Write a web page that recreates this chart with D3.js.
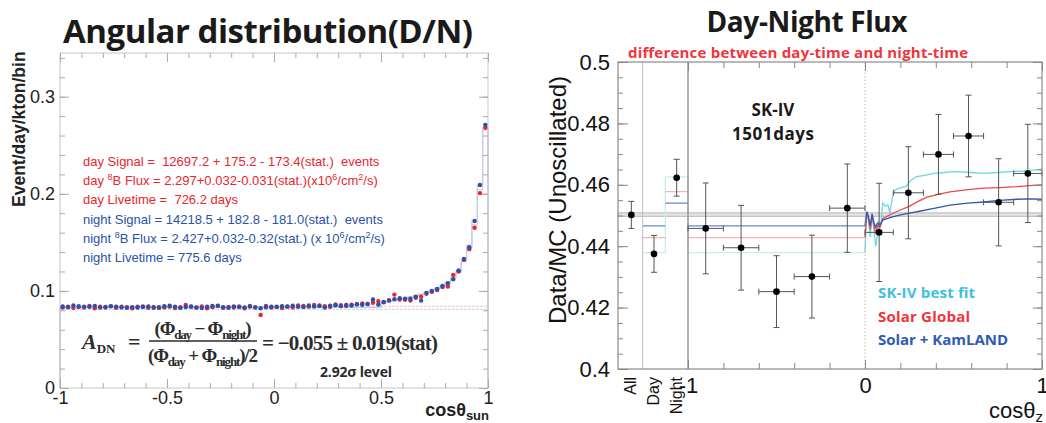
<!DOCTYPE html>
<html><head><meta charset="utf-8">
<script src="https://cdn.jsdelivr.net/npm/d3@7"></script>
<style>body{margin:0;background:#fff;} svg{display:block;} text{white-space:pre;}</style>
</head><body><svg id="c" width="1046" height="423"></svg>
<script>
// ================= DATA =================
// Left panel: 80 bins of cos(theta_sun) from -1 to 1
const leftBinCount = 80;
const dayRate = [
 0.0828,0.0837,0.0825,0.0833,0.0830,0.0845,0.0822,0.0836,0.0829,0.0843,
 0.0826,0.0838,0.0832,0.0821,0.0836,0.0840,0.0827,0.0834,0.0825,0.0830,
 0.0838,0.0824,0.0832,0.0855,0.0836,0.0828,0.0839,0.0822,0.0833,0.0847,
 0.0826,0.0835,0.0829,0.0840,0.0822,0.0838,0.0833,0.0752,0.0846,0.0829,
 0.0836,0.0824,0.0839,0.0830,0.0851,0.0845,0.0838,0.0856,0.0849,0.0842,
 0.0837,0.0860,0.0853,0.0845,0.0858,0.0862,0.0872,0.0865,0.0878,0.0895,
 0.0883,0.0905,0.0962,0.0912,0.0910,0.0900,0.0930,0.0940,0.0970,0.0990,
 0.1010,0.1040,0.1045,0.1165,0.1200,0.1320,0.1430,0.1650,0.2007,0.2680];
const nightRate = [
 0.0840,0.0832,0.0851,0.0842,0.0838,0.0836,0.0846,0.0828,0.0834,0.0841,
 0.0838,0.0830,0.0826,0.0833,0.0829,0.0835,0.0839,0.0827,0.0831,0.0842,
 0.0848,0.0836,0.0825,0.0834,0.0840,0.0829,0.0823,0.0838,0.0844,0.0846,
 0.0832,0.0826,0.0841,0.0833,0.0830,0.0845,0.0828,0.0822,0.0832,0.0837,
 0.0835,0.0842,0.0838,0.0847,0.0836,0.0833,0.0850,0.0840,0.0845,0.0828,
 0.0848,0.0852,0.0843,0.0856,0.0849,0.0862,0.0858,0.0866,0.0912,0.0860,
 0.0885,0.0900,0.0915,0.0925,0.0920,0.0920,0.0940,0.0900,0.0980,0.1000,
 0.1020,0.1050,0.1080,0.1120,0.1210,0.1330,0.1450,0.1720,0.2090,0.2710];
const mcFlatLevel = 0.0830;      // expectation histogram, flat part (bins 0-59)
const mcTailStart = 60;
const mcNightTail = [0.0880,0.0890,0.0900,0.0912,0.0925,0.0938,0.0952,0.0968,0.0985,0.1005,
                     0.1028,0.1055,0.1090,0.1135,0.1200,0.1320,0.1470,0.1730,0.2090,0.2680];
const mcDayTail   = [0.0878,0.0888,0.0898,0.0910,0.0922,0.0935,0.0950,0.0965,0.0982,0.1000,
                     0.1022,0.1048,0.1082,0.1125,0.1190,0.1300,0.1440,0.1680,0.2040,0.2660];
const flatDayLevel = 0.0842, flatNightLevel = 0.0810;
const leftYTicks = [0, 0.1, 0.2, 0.3];
const leftXTicks = [-1, -0.5, 0, 0.5, 1];

// Right panel
const summaryCats = ["All", "Day", "Night"];
const summaryVals = [0.4502, 0.4375, 0.4623];
const summaryErr  = [0.0044, 0.0060, 0.0060];
const allLevel = 0.4503;
const cosEdges = [-1, -0.8, -0.6, -0.4, -0.2, 0, 0.16, 0.33, 0.5, 0.67, 0.84, 1];
const cosVals  = [0.4458, 0.4395, 0.4252, 0.4301, 0.4524, 0.4445, 0.4574, 0.4699, 0.4759, 0.4543, 0.4637];
const cosErr   = [0.0148, 0.0138, 0.0117, 0.0135, 0.0144, 0.0160, 0.0150, 0.0130, 0.0133, 0.0142, 0.0160];
const modelSK     = {day: 0.4379, night: 0.4626};
const modelGlobal = {day: 0.4428, night: 0.4578};
const modelKam    = {day: 0.4466, night: 0.4540};
const curveSK = [[0,0.4379],[0.01,0.4512],[0.02,0.4480],[0.03,0.4430],[0.04,0.4500],[0.05,0.4455],[0.06,0.4400],[0.065,0.4410],[0.075,0.4480],[0.09,0.4470],[0.1,0.4540],[0.115,0.4530],[0.13,0.4535],[0.14,0.4507],[0.155,0.4560],[0.17,0.4583],[0.2,0.4590],[0.23,0.4594],[0.26,0.4615],[0.29,0.4627],[0.33,0.4630],[0.39,0.4637],[0.45,0.4640],[0.5,0.4643],[0.6,0.4640],[0.67,0.4637],[0.75,0.4640],[0.82,0.4643],[0.9,0.4645],[0.95,0.4648],[1.0,0.4651]];
const curveGlobal = [[0,0.4428],[0.01,0.4512],[0.02,0.4490],[0.03,0.4455],[0.04,0.4500],[0.05,0.4470],[0.06,0.4440],[0.07,0.4468],[0.085,0.4462],[0.1,0.4490],[0.15,0.4505],[0.2,0.4518],[0.25,0.4530],[0.3,0.4546],[0.35,0.4560],[0.42,0.4570],[0.48,0.4577],[0.58,0.4584],[0.67,0.4589],[0.76,0.4591],[0.86,0.4594],[0.93,0.4597],[1.0,0.4600]];
const curveKam = [[0,0.4466],[0.01,0.4512],[0.02,0.4495],[0.03,0.4468],[0.04,0.4505],[0.05,0.4478],[0.06,0.4462],[0.07,0.4475],[0.085,0.4470],[0.1,0.4485],[0.15,0.4495],[0.2,0.4502],[0.25,0.4508],[0.3,0.4513],[0.39,0.4523],[0.48,0.4534],[0.58,0.4540],[0.67,0.4544],[0.76,0.4549],[0.86,0.4553],[0.93,0.4554],[1.0,0.4553]];
const rightYTicks = [0.4, 0.42, 0.44, 0.46, 0.48, 0.5];
const rightXTicks = [-1, 0, 1];

// ================= DRAW =================
const svg = d3.select("#c");
const ARIAL = "'Liberation Sans', Arial, sans-serif";
const CAL = "'Open Sans', sans-serif";
const RED = "#e8262d", BLUE = "#2a52a8";

function rich(g, x, y, parts) {
  const t = g.append("text").attr("x", x).attr("y", y);
  let shift = 0;
  parts.forEach(p => {
    const s = typeof p === "string" ? {t: p} : p;
    const target = s.sup ? -s.sup : (s.sub ? s.sub : 0);
    const ts = t.append("tspan").text(s.t).attr("dy", target - shift);
    if (s.size) ts.attr("font-size", s.size);
    if (s.style) ts.attr("font-style", s.style);
    if (s.weight) ts.attr("font-weight", s.weight);
    shift = target;
  });
  return t;
}

// ---------- LEFT PANEL ----------
const xL = d3.scaleLinear().domain([-1, 1]).range([60, 488]);
const yL = d3.scaleLinear().domain([0, 0.345]).range([388, 53]);
const L = svg.append("g");
const binW = 2 / leftBinCount;
const binLo = i => -1 + i * binW;
const binC = i => -1 + (i + 0.5) * binW;

L.append("text").attr("x", 63).attr("y", 43).attr("font-family", CAL).attr("font-weight", 700)
  .attr("font-size", 33).attr("fill", "#1a1a1a").attr("textLength", 410).text("Angular distribution(D/N)");

L.append("line").attr("x1", xL(-1)).attr("x2", xL(1)).attr("y1", yL(flatDayLevel)).attr("y2", yL(flatDayLevel))
  .attr("stroke", "#f7c4c4").attr("stroke-width", 1.2).attr("stroke-dasharray", "3,1");
L.append("line").attr("x1", xL(-1)).attr("x2", xL(1)).attr("y1", yL(flatNightLevel)).attr("y2", yL(flatNightLevel))
  .attr("stroke", "#cddbf3").attr("stroke-width", 1.2).attr("stroke-dasharray", "3,1");

function stepPath(tail) {
  const vals = d3.range(leftBinCount).map(i => i < mcTailStart ? mcFlatLevel : tail[i - mcTailStart]);
  let d = `M${xL(-1)},${yL(0)}`;
  vals.forEach((v, i) => { d += `L${xL(binLo(i))},${yL(v)}L${xL(binLo(i + 1))},${yL(v)}`; });
  d += `L${xL(1)},${yL(0)}`;
  return d;
}
L.append("path").attr("d", stepPath(mcDayTail)).attr("fill", "none").attr("stroke", "#f4b8b8").attr("stroke-width", 1);
L.append("path").attr("d", stepPath(mcNightTail)).attr("fill", "none").attr("stroke", "#b9cdee").attr("stroke-width", 1.2);

L.append("rect").attr("x", xL(-1)).attr("y", yL(0.345)).attr("width", xL(1) - xL(-1)).attr("height", yL(0) - yL(0.345))
  .attr("fill", "none").attr("stroke", "#c6c6c6");

const tickCol = "#aaa";
const yMinor = d3.range(0, 0.345, 0.02);
const xMinor = d3.range(-1, 1.0001, 0.1);
function tickGroup(g) { g.select(".domain").remove(); g.selectAll("line").attr("stroke", tickCol); }
L.append("g").attr("transform", `translate(${xL(-1)},0)`).call(d3.axisLeft(yL).tickValues(yMinor).tickSize(-5).tickFormat("")).call(tickGroup);
L.append("g").attr("transform", `translate(${xL(1)},0)`).call(d3.axisRight(yL).tickValues(yMinor).tickSize(-5).tickFormat("")).call(tickGroup);
L.append("g").attr("transform", `translate(0,${yL(0)})`).call(d3.axisBottom(xL).tickValues(xMinor).tickSize(-5).tickFormat("")).call(tickGroup);
L.append("g").attr("transform", `translate(0,${yL(0.345)})`).call(d3.axisTop(xL).tickValues(xMinor).tickSize(-5).tickFormat("")).call(tickGroup);
const lyAx = L.append("g").attr("transform", `translate(${xL(-1)},0)`)
  .call(d3.axisLeft(yL).tickValues(leftYTicks).tickSize(-9).tickPadding(5).tickFormat(d => String(d))).call(tickGroup);
lyAx.selectAll("text").attr("font-family", ARIAL).attr("font-size", 18).attr("fill", "#222");
L.append("g").attr("transform", `translate(${xL(1)},0)`).call(d3.axisRight(yL).tickValues(leftYTicks).tickSize(-9).tickFormat("")).call(tickGroup);
const lxAx = L.append("g").attr("transform", `translate(0,${yL(0)})`)
  .call(d3.axisBottom(xL).tickValues(leftXTicks).tickSize(-9).tickPadding(3).tickFormat(d => String(d))).call(tickGroup);
lxAx.selectAll("text").attr("font-family", ARIAL).attr("font-size", 18).attr("fill", "#222");
L.append("g").attr("transform", `translate(0,${yL(0.345)})`).call(d3.axisTop(xL).tickValues(leftXTicks).tickSize(-9).tickFormat("")).call(tickGroup);

L.append("g").selectAll("circle").data(dayRate).join("circle")
  .attr("cx", (d, i) => xL(binC(i))).attr("cy", d => yL(d)).attr("r", 2.2).attr("fill", RED);
L.append("g").selectAll("circle").data(nightRate).join("circle")
  .attr("cx", (d, i) => xL(binC(i))).attr("cy", d => yL(d)).attr("r", 2.2).attr("fill", BLUE);

L.append("text").attr("transform", "translate(25,207) rotate(-90)").attr("font-family", ARIAL).attr("font-weight", 700)
  .attr("font-size", 17.5).attr("fill", "#222").text("Event/day/kton/bin");
const lxt = rich(L, 489, 416, [{t: "cosθ"}, {t: "sun", sub: 4, size: 13}]);
lxt.attr("text-anchor", "end").attr("font-family", ARIAL).attr("font-weight", 700).attr("font-size", 18).attr("fill", "#222");

const infoLines = [
  {c: RED,  parts: ["day Signal =  12697.2 + 175.2 - 173.4(stat.)  events"]},
  {c: RED,  parts: ["day ", {t: "8", sup: 5, size: 9}, "B Flux = 2.297+0.032-0.031(stat.)(x10", {t: "6", sup: 5, size: 9}, "/cm", {t: "2", sup: 5, size: 9}, "/s)"]},
  {c: RED,  parts: ["day Livetime =  726.2 days"]},
  {c: BLUE, parts: ["night Signal = 14218.5 + 182.8 - 181.0(stat.)  events"]},
  {c: BLUE, parts: ["night ", {t: "8", sup: 5, size: 9}, "B Flux = 2.427+0.032-0.32(stat.) (x 10", {t: "6", sup: 5, size: 9}, "/cm", {t: "2", sup: 5, size: 9}, "/s)"]},
  {c: BLUE, parts: ["night Livetime = 775.6 days"]}
];
infoLines.forEach((ln, i) => {
  rich(L, 83, 166 + i * 19.2, ln.parts).attr("font-family", ARIAL).attr("font-size", 13).attr("fill", ln.c);
});

const FS = "'Liberation Serif', 'DejaVu Serif', serif";
const fcol = "#2b2b2b";
rich(L, 82, 349, [{t: "A", style: "italic"}, {t: "DN", sub: 4, size: 13}]).attr("font-family", FS).attr("font-weight", 700).attr("font-size", 22).attr("fill", fcol);
L.append("text").attr("x", 128).attr("y", 349).attr("font-family", FS).attr("font-weight", 700).attr("font-size", 22).attr("fill", fcol).text("=");
rich(L, 203, 335, [{t: "(Φ"}, {t: "day", sub: 4, size: 13}, {t: " − Φ"}, {t: "night", sub: 4, size: 13}, {t: ")"}])
  .attr("text-anchor", "middle").attr("font-family", FS).attr("font-weight", 700).attr("font-size", 19).attr("fill", fcol).attr("textLength", 97);
L.append("line").attr("x1", 149).attr("x2", 257).attr("y1", 341).attr("y2", 341).attr("stroke", fcol).attr("stroke-width", 1.3);
rich(L, 203, 362, [{t: "(Φ"}, {t: "day", sub: 4, size: 13}, {t: " + Φ"}, {t: "night", sub: 4, size: 13}, {t: ")/2"}])
  .attr("text-anchor", "middle").attr("font-family", FS).attr("font-weight", 700).attr("font-size", 19).attr("fill", fcol).attr("textLength", 110);
L.append("text").attr("x", 262).attr("y", 350).attr("font-family", FS).attr("font-weight", 700).attr("font-size", 21)
  .attr("fill", fcol).attr("textLength", 176).text("= −0.055 ± 0.019(stat)");
L.append("text").attr("x", 320).attr("y", 377).attr("font-family", CAL).attr("font-weight", 700).attr("font-size", 14)
  .attr("fill", "#2b2b2b").attr("textLength", 72).text("2.92σ level");

// ---------- RIGHT PANEL ----------
const xR = d3.scaleLinear().domain([-1, 1]).range([688, 1042]);
const yR = d3.scaleLinear().domain([0.4, 0.5]).range([369, 62]);
const sumX = d3.scaleLinear().domain([0, summaryCats.length]).range([620, xR(-1)]);
const R = svg.append("g");
const rLeft = 618, rRight = xR(1), rTop = yR(0.5), rBot = yR(0.4);

R.append("text").attr("x", 807).attr("y", 32).attr("text-anchor", "middle").attr("font-family", CAL).attr("font-weight", 700)
  .attr("font-size", 28).attr("fill", "#1a1a1a").attr("textLength", 201).text("Day-Night Flux");
R.append("text").attr("x", 628).attr("y", 58).attr("font-family", CAL).attr("font-weight", 700)
  .attr("font-size", 15).attr("fill", "#f0353a").attr("textLength", 340).text("difference between day-time and night-time");

R.append("rect").attr("x", rLeft).attr("width", rRight - rLeft).attr("y", yR(allLevel + 0.00055)).attr("height", yR(allLevel - 0.00055) - yR(allLevel + 0.00055))
  .attr("fill", "#e4e4e4").attr("stroke", "#aaa").attr("stroke-width", 0.8);

const models = [
  {m: modelSK, curve: curveSK, light: "#c4eef4", col: "#6fd6e6"},
  {m: modelGlobal, curve: curveGlobal, light: "#f7b4b4", col: "#f0474b"},
  {m: modelKam, curve: curveKam, light: "#6a88c9", col: "#3158b0"}
];
models.forEach((md, k) => {
  const dayX0 = sumX(1), dayX1 = sumX(2), nX1 = sumX(3);
  let d;
  if (k === 0) {
    d = `M${dayX0},${yR(md.m.day)}L${dayX1},${yR(md.m.day)}L${dayX1},${yR(md.m.night)}L${nX1},${yR(md.m.night)}L${nX1},${yR(md.m.day)}L${xR(0)},${yR(md.m.day)}`;
  } else {
    d = `M${dayX0},${yR(md.m.day)}L${dayX1},${yR(md.m.day)}M${dayX1},${yR(md.m.night)}L${nX1},${yR(md.m.night)}M${nX1},${yR(md.m.day)}L${xR(0)},${yR(md.m.day)}`;
  }
  R.append("path").attr("d", d).attr("fill", "none").attr("stroke", md.light).attr("stroke-width", 1.3);
});
const line = d3.line().x(d => xR(d[0])).y(d => yR(d[1]));
models.forEach(md => {
  R.append("path").attr("d", line(md.curve)).attr("fill", "none").attr("stroke", md.col).attr("stroke-width", 1.3);
});

R.append("line").attr("x1", sumX(1)).attr("x2", sumX(1)).attr("y1", rTop).attr("y2", rBot).attr("stroke", "#bdbdbd").attr("stroke-width", 1);
R.append("line").attr("x1", xR(-1)).attr("x2", xR(-1)).attr("y1", rTop).attr("y2", rBot).attr("stroke", "#8a8a8a").attr("stroke-width", 1.3);
R.append("line").attr("x1", xR(0)).attr("x2", xR(0)).attr("y1", rTop).attr("y2", rBot).attr("stroke", "#bbb").attr("stroke-width", 1).attr("stroke-dasharray", "1.5,2");

const EB = "#555";
const eb = R.append("g").attr("stroke", EB).attr("stroke-width", 1);
summaryVals.forEach((v, i) => {
  const x = sumX(i + 0.5);
  eb.append("line").attr("x1", x).attr("x2", x).attr("y1", yR(v + summaryErr[i])).attr("y2", yR(v - summaryErr[i]));
  [v + summaryErr[i], v - summaryErr[i]].forEach(e => eb.append("line").attr("x1", x - 3).attr("x2", x + 3).attr("y1", yR(e)).attr("y2", yR(e)));
});
cosVals.forEach((v, i) => {
  const x0 = xR(cosEdges[i]), x1 = xR(cosEdges[i + 1]), xc = (x0 + x1) / 2;
  eb.append("line").attr("x1", xc).attr("x2", xc).attr("y1", yR(v + cosErr[i])).attr("y2", yR(v - cosErr[i]));
  [v + cosErr[i], v - cosErr[i]].forEach(e => eb.append("line").attr("x1", xc - 3).attr("x2", xc + 3).attr("y1", yR(e)).attr("y2", yR(e)));
  eb.append("line").attr("x1", x0).attr("x2", x1).attr("y1", yR(v)).attr("y2", yR(v));
  [x0, x1].forEach(x => eb.append("line").attr("x1", x).attr("x2", x).attr("y1", yR(v) - 3).attr("y2", yR(v) + 3));
});
R.append("g").selectAll("circle").data(summaryVals).join("circle")
  .attr("cx", (d, i) => sumX(i + 0.5)).attr("cy", d => yR(d)).attr("r", 3.3).attr("fill", "#000");
R.append("g").selectAll("circle").data(cosVals).join("circle")
  .attr("cx", (d, i) => (xR(cosEdges[i]) + xR(cosEdges[i + 1])) / 2).attr("cy", d => yR(d)).attr("r", 3.3).attr("fill", "#000");

R.append("rect").attr("x", rLeft).attr("y", rTop).attr("width", rRight - rLeft).attr("height", rBot - rTop)
  .attr("fill", "none").attr("stroke", "#8a8a8a").attr("stroke-width", 1.2);

const rt = "#888";
function tg(g) { g.select(".domain").remove(); g.selectAll("line").attr("stroke", rt); }
const ryMinor = d3.range(0.4, 0.5001, 0.005);
R.append("g").attr("transform", `translate(${rLeft},0)`).call(d3.axisLeft(yR).tickValues(ryMinor).tickSize(-5).tickFormat("")).call(tg);
R.append("g").attr("transform", `translate(${rRight},0)`).call(d3.axisRight(yR).tickValues(ryMinor).tickSize(-5).tickFormat("")).call(tg);
const ryAx = R.append("g").attr("transform", `translate(${rLeft},0)`)
  .call(d3.axisLeft(yR).tickValues(rightYTicks).tickSize(-10).tickPadding(8).tickFormat(d => String(d))).call(tg);
ryAx.selectAll("text").attr("font-family", ARIAL).attr("font-size", 22).attr("fill", "#111");
R.append("g").attr("transform", `translate(${rRight},0)`).call(d3.axisRight(yR).tickValues(rightYTicks).tickSize(-9).tickFormat("")).call(tg);
const rxMinor = d3.range(-0.8, 0.8001, 0.2);
R.append("g").attr("transform", `translate(0,${rBot})`).call(d3.axisBottom(xR).tickValues(rxMinor).tickSize(-6).tickFormat("")).call(tg);
R.append("g").attr("transform", `translate(0,${rTop})`).call(d3.axisTop(xR).tickValues(rxMinor).tickSize(-6).tickFormat("")).call(tg);
const rxAx = R.append("g").attr("transform", `translate(0,${rBot})`)
  .call(d3.axisBottom(xR).tickValues(rightXTicks).tickSize(-9).tickPadding(8).tickFormat(d => String(d))).call(tg);
rxAx.selectAll("text").attr("font-family", ARIAL).attr("font-size", 22).attr("fill", "#111");
R.append("g").attr("transform", `translate(0,${rTop})`).call(d3.axisTop(xR).tickValues(rightXTicks).tickSize(-9).tickFormat("")).call(tg);

summaryCats.forEach((c, i) => {
  R.append("text").attr("transform", `translate(${sumX(i + 0.5) + 5},${rBot + 8}) rotate(-90)`).attr("text-anchor", "end")
    .attr("font-family", ARIAL).attr("font-size", 16).attr("fill", "#111").text(c);
});

R.append("text").attr("transform", "translate(566,200) rotate(-90)").attr("text-anchor", "middle")
  .attr("font-family", ARIAL).attr("font-size", 24).attr("fill", "#111").text("Data/MC (Unoscillated)");
rich(R, 1043, 418, [{t: "cosθ"}, {t: "z", sub: 4, size: 15}]).attr("text-anchor", "end")
  .attr("font-family", ARIAL).attr("font-size", 22).attr("fill", "#111");

R.append("text").attr("x", 773).attr("y", 116).attr("text-anchor", "middle").attr("font-family", CAL).attr("font-weight", 700)
  .attr("font-size", 17).attr("fill", "#1a1a1a").text("SK-IV");
R.append("text").attr("x", 773).attr("y", 140).attr("text-anchor", "middle").attr("font-family", CAL).attr("font-weight", 700)
  .attr("font-size", 17).attr("fill", "#1a1a1a").attr("textLength", 82).text("1501days");
const legend = [
  {t: "SK-IV best fit", c: "#3cbfe0", w: 97},
  {t: "Solar Global", c: "#f0353a", w: 92},
  {t: "Solar + KamLAND", c: "#2f5bb5", w: 130}
];
legend.forEach((l, i) => {
  R.append("text").attr("x", 878).attr("y", 298 + i * 23.5).attr("font-family", CAL).attr("font-weight", 700)
    .attr("font-size", 15).attr("fill", l.c).attr("textLength", l.w).text(l.t);
});
</script></body></html>
